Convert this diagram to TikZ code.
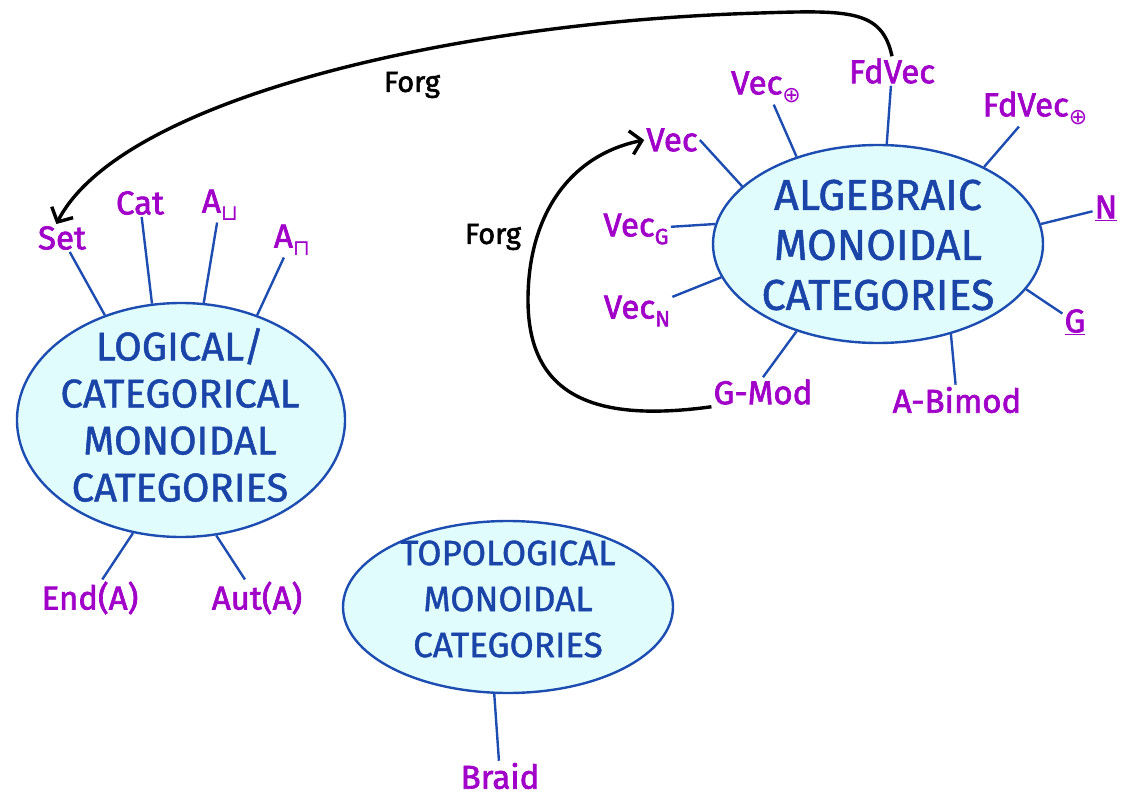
\documentclass[tikz,border=0pt]{standalone}
\usepackage{fontspec}
\setmainfont{Fira Sans}
\newfontfamily\blobfont{Fira Sans}[FakeBold=1.2]
\newfontfamily\labfont{Fira Sans}[FakeBold=2]
\newfontfamily\symfont{DejaVu Sans}
\usepackage{tikz}
\usetikzlibrary{shapes.geometric, arrows.meta}
\usepackage{xcolor}
\definecolor{blobFill}{RGB}{224, 252, 252}
\definecolor{blobLine}{RGB}{30, 77, 178}
\definecolor{blobText}{RGB}{26, 68, 168}
\definecolor{labPurple}{RGB}{160, 0, 200}
\newcommand{\lsub}[1]{\raisebox{-0.45ex}{\fontsize{22}{22}\selectfont #1}}
\newcommand{\opl}{\lsub{\symfont ⊕}}
\tikzset{
  blob/.style={ellipse, draw=blobLine, fill=blobFill, line width=2.4pt, inner sep=0pt},
  blobtext/.style={text=blobText, align=center, font=\blobfont\fontsize{40}{47}\selectfont},
  lab/.style={text=labPurple, font=\labfont\fontsize{33}{38}\selectfont, inner sep=2pt},
  spoke/.style={draw=blobLine, line width=2.4pt},
  forg/.style={black, line width=3.4pt, -{Straight Barb[length=11pt, width=24pt]}},
  forglabel/.style={font=\labfont\fontsize{29}{34}\selectfont}
}

\begin{document}
\begin{tikzpicture}[x=1pt, y=-1pt]
  \useasboundingbox (0,0) rectangle (1125,797);
  % the three kinds of monoidal categories
  \node[blob, minimum width=328, minimum height=234] (logic) at (181,420) {};
  \node[blobtext] (logictext) at (180,415) {LOGICAL/\\CATEGORICAL\\MONOIDAL\\CATEGORIES};
  \node[blob, minimum width=330, minimum height=198] (alg) at (878,244) {};
  \node[blobtext, font=\blobfont\fontsize{43}{50}\selectfont] (algtext) at (878,245) {ALGEBRAIC\\MONOIDAL\\CATEGORIES};
  \node[blob, minimum width=330, minimum height=172] (topo) at (508,607) {};
  \node[blobtext, font=\blobfont\fontsize{35}{46}\selectfont] (topotext) at (508,599) {TOPOLOGICAL\\MONOIDAL\\CATEGORIES};

  % examples
  \node[lab] (set) at (62,238) {Set};
  \node[lab] (cat) at (140,203) {Cat};
  \node[lab] (acup) at (220,205) {A\lsub{\symfont ⊔}};
  \node[lab] (acap) at (292,240) {A\lsub{\symfont ⊓}};
  \node[lab] (endA) at (90,598) {End(A)};
  \node[lab] (autA) at (257,598) {Aut(A)};
  \node[lab] (vec) at (672,140) {Vec};
  \node[lab] (vecplus) at (766,87) {Vec\opl};
  \node[lab] (fdvec) at (892,71) {FdVec};
  \node[lab] (fdvecplus) at (1035,108) {FdVec\opl};
  \node[lab] (vecG) at (636,229) {Vec\lsub{G}};
  \node[lab] (vecN) at (637,311) {Vec\lsub{N}};
  \node[lab] (natN) at (1106,208) {\underline{N}};
  \node[lab] (grpG) at (1075,322) {\underline{G}};
  \node[lab] (gmod) at (763,392) {G-Mod};
  \node[lab] (bimod) at (957,400) {A-Bimod};
  \node[lab] (braid) at (500,776) {Braid};

  % spokes
  \draw[spoke] (logic.126) -- (set);
  \draw[spoke] (logic.104) -- (cat);
  \draw[spoke] (logic.79) -- (acup);
  \draw[spoke] (logic.54.5) -- (acap);
  \draw[spoke] (logic.247) -- (endA);
  \draw[spoke] (logic.287) -- (autA);
  \draw[spoke] (alg.157) -- (vec.east);
  \draw[spoke] (alg.133) -- (vecplus);
  \draw[spoke] (alg.85) -- (fdvec);
  \draw[spoke] (alg.36) -- (fdvecplus);
  \draw[spoke] (alg.7.7) -- (natN);
  \draw[spoke] (alg.-17) -- (grpG);
  \draw[spoke] (alg.-51) -- (bimod);
  \draw[spoke] (alg.227) -- (gmod.north);
  \draw[spoke] (alg.192) -- (vecN);
  \draw[spoke] (alg.173) -- (vecG);
  \draw[spoke] (topo.261) -- (braid);

  % forgetful functors
  \draw[forg] (fdvec.north) .. controls (882,10) and (850,10) .. (760,13)
    .. controls (450,22) and (120,100) .. (set.112);
  \node[forglabel] (forgtop) at (412,85) {Forg};
  \draw[forg] (gmod.south west) .. controls (600,422) and (528,400) .. (528,300)
    .. controls (528,215) and (570,155) .. (vec.west);
  \node[forglabel] (forgloop) at (493,237) {Forg};
\end{tikzpicture}
\end{document}
